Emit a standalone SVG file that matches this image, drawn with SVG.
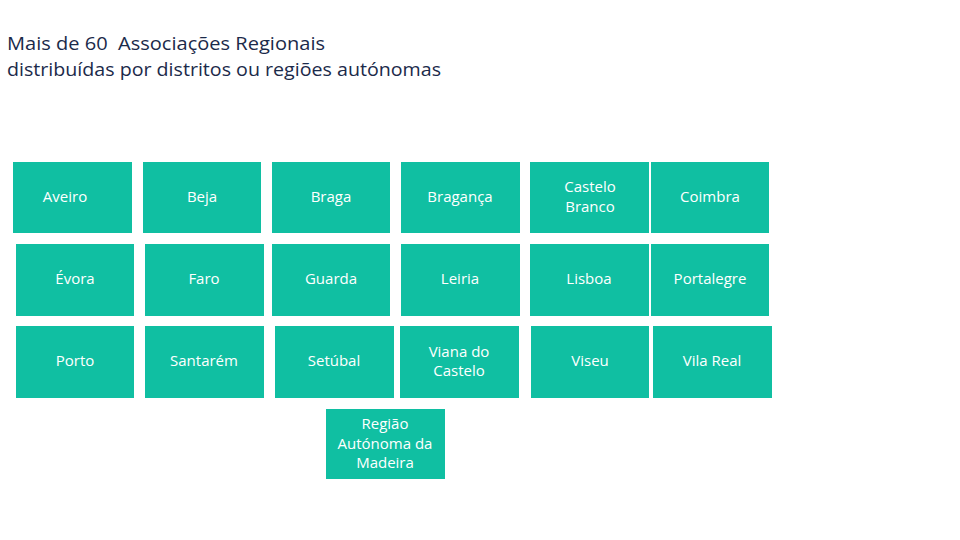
<svg xmlns="http://www.w3.org/2000/svg" width="960" height="540" viewBox="0 0 960 540">
<style>
.b{fill:#10BFA2}
.t{font-family:"Open Sans","Liberation Sans",sans-serif;font-size:15px;fill:#ffffff;text-anchor:middle}
.h{font-family:"Open Sans","Liberation Sans",sans-serif;font-size:19px;fill:#1B2A4A}
</style>
<rect width="960" height="540" fill="#ffffff"/>
<g id="title">
<text class="h" x="7" y="50" textLength="318" lengthAdjust="spacingAndGlyphs" xml:space="preserve">Mais de 60  Associações Regionais</text>
<text class="h" x="7" y="76" textLength="434" lengthAdjust="spacingAndGlyphs">distribuídas por distritos ou regiões autónomas</text>
</g>
<g id="aveiro"><rect class="b" x="13" y="162" width="119" height="71"/><text class="t" x="65" y="202">Aveiro</text></g>
<g id="beja"><rect class="b" x="143" y="162" width="118" height="71"/><text class="t" x="202" y="202">Beja</text></g>
<g id="braga"><rect class="b" x="272" y="162" width="118" height="71"/><text class="t" x="331" y="202">Braga</text></g>
<g id="braganca"><rect class="b" x="401" y="162" width="119" height="71"/><text class="t" x="460" y="202">Bragança</text></g>
<g id="castelo-branco"><rect class="b" x="530" y="162" width="119" height="71"/><text class="t" x="590" y="192">Castelo</text><text class="t" x="590" y="212">Branco</text></g>
<g id="coimbra"><rect class="b" x="651" y="162" width="118" height="71"/><text class="t" x="710" y="202">Coimbra</text></g>
<g id="evora"><rect class="b" x="16" y="244" width="118" height="72"/><text class="t" x="75" y="284">Évora</text></g>
<g id="faro"><rect class="b" x="145" y="244" width="119" height="72"/><text class="t" x="204" y="284">Faro</text></g>
<g id="guarda"><rect class="b" x="272" y="244" width="118" height="72"/><text class="t" x="331" y="284">Guarda</text></g>
<g id="leiria"><rect class="b" x="401" y="244" width="119" height="72"/><text class="t" x="460" y="284">Leiria</text></g>
<g id="lisboa"><rect class="b" x="530" y="244" width="119" height="72"/><text class="t" x="589" y="284">Lisboa</text></g>
<g id="portalegre"><rect class="b" x="651" y="244" width="118" height="72"/><text class="t" x="710" y="284">Portalegre</text></g>
<g id="porto"><rect class="b" x="16" y="326" width="118" height="72"/><text class="t" x="75" y="366">Porto</text></g>
<g id="santarem"><rect class="b" x="145" y="326" width="119" height="72"/><text class="t" x="204" y="366">Santarém</text></g>
<g id="setubal"><rect class="b" x="275" y="326" width="119" height="72"/><text class="t" x="334" y="366">Setúbal</text></g>
<g id="viana"><rect class="b" x="400" y="326" width="119" height="72"/><text class="t" x="459" y="357">Viana do</text><text class="t" x="459" y="376">Castelo</text></g>
<g id="viseu"><rect class="b" x="531" y="326" width="118" height="72"/><text class="t" x="590" y="366">Viseu</text></g>
<g id="vila-real"><rect class="b" x="653" y="326" width="119" height="72"/><text class="t" x="712" y="366">Vila Real</text></g>
<g id="madeira"><rect class="b" x="326" y="409" width="119" height="70"/><text class="t" x="385" y="429">Região</text><text class="t" x="385" y="449">Autónoma da</text><text class="t" x="385" y="468">Madeira</text></g>
<g id="connectors"></g>
</svg>
